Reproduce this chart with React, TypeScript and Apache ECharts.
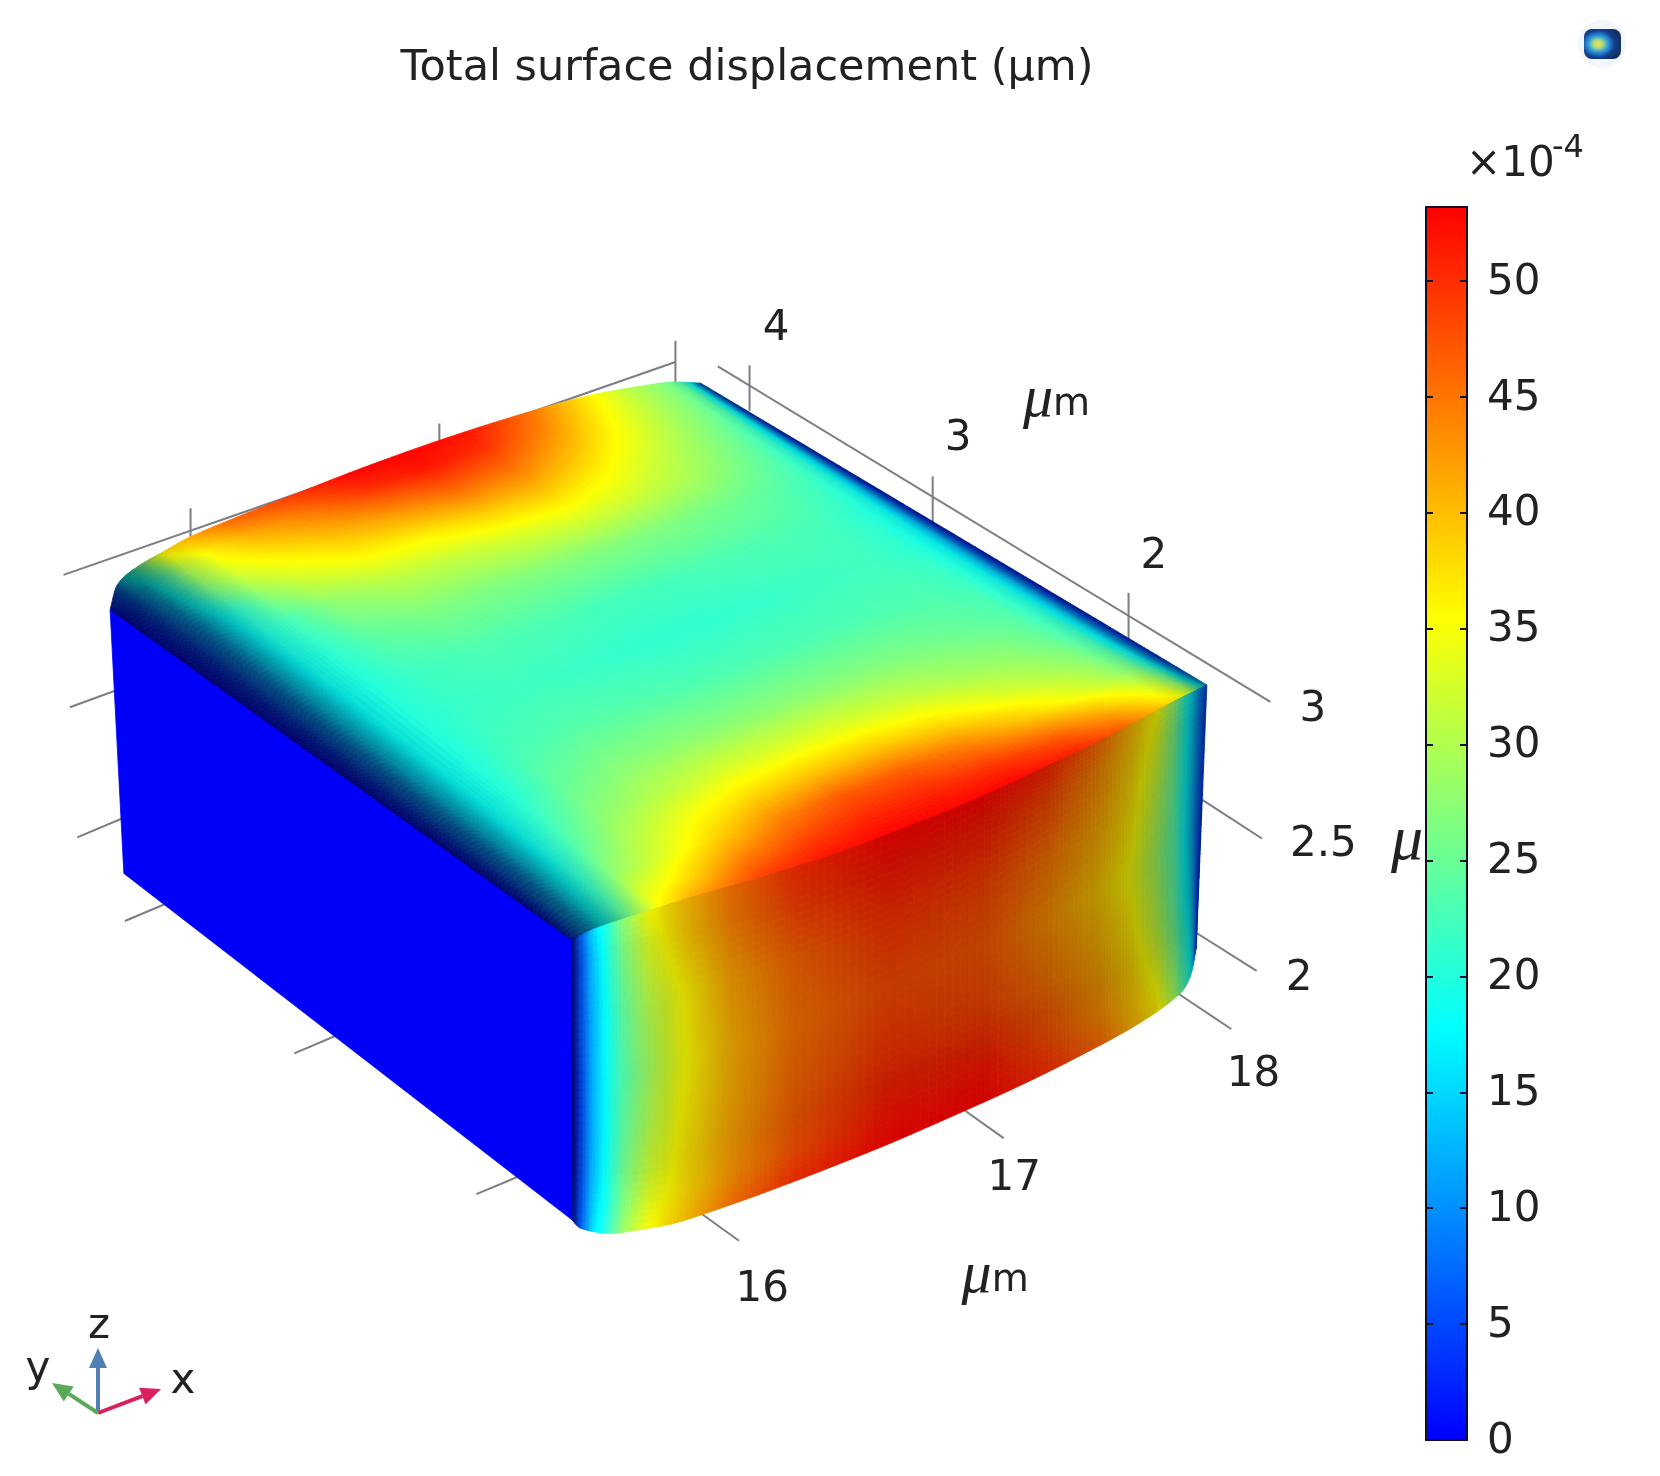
import React, { useEffect, useRef } from "react";
import * as echarts from "echarts";

const TITLE = "Total surface displacement (μm)";
const VALUE_MAX = 53.2;
const COLORBAR_TICK = 5;
const COLOR_STOPS = [
  [0, 0, 255],
  [0, 255, 255],
  [255, 255, 0],
  [255, 0, 0],
];

// Surface samples, values in units of 1e-4 µm.
const TOP_S = [0, 0.02, 0.05, 0.09, 0.14, 0.2, 0.3, 0.4, 0.5, 0.6, 0.7, 0.8, 0.87, 0.92, 0.96, 0.98, 1];
const TOP_T = [0, 0.04, 0.1, 0.16, 0.22, 0.3, 0.4, 0.5, 0.6, 0.7, 0.78, 0.84, 0.9, 0.96, 1];
const TOP_VALUES = [
  [2, 11, 18, 26, 36, 42, 49, 52, 53, 53, 53, 51, 47, 41, 36, 30, 14],
  [1, 10, 17, 23, 33, 37, 45, 49, 51, 51, 50, 47, 42, 37, 32, 25, 8],
  [0, 9, 16, 21, 28, 32, 38.5, 44, 47, 47, 44, 38.5, 34, 30, 26, 19, 4],
  [0, 8, 15, 19.5, 25, 29.5, 34.5, 38, 39.5, 39.5, 37.5, 33, 30, 27.5, 23, 16, 3],
  [0, 8, 15, 19, 23, 27, 30.5, 33, 33.5, 33.5, 32, 29, 27.5, 25, 21.5, 15, 2.5],
  [0, 8, 15, 18.5, 21, 24.5, 27, 27.5, 27.5, 27.5, 27, 26, 24.5, 23.5, 20, 14, 2],
  [0, 8, 15, 18.5, 20.5, 22.5, 23.5, 23.5, 23, 23, 23, 23, 23, 22, 19, 13, 2],
  [0, 8, 15, 18.5, 20.5, 21.5, 22, 21.5, 21, 21, 21.5, 22, 22, 21, 18.5, 13, 2],
  [0, 8, 15, 18.5, 20.5, 22, 23, 23, 22.5, 22.5, 23, 23, 22.5, 21, 19, 13, 2],
  [0, 8, 15, 19, 21.5, 24.5, 26.5, 26.5, 27, 27, 26.5, 25.5, 24, 22.5, 20, 14, 2],
  [0, 8, 15, 20, 23.5, 27.5, 30.5, 31.5, 33, 34, 32.5, 29.5, 26.5, 24, 20.5, 15, 2.5],
  [0, 8.5, 15.5, 21, 28, 32, 35.5, 36.5, 39, 39.5, 36, 31.5, 28, 25, 21.5, 15.5, 3],
  [0, 10, 18, 27, 33, 36, 40, 43, 46, 45, 40, 34, 29.5, 26.5, 23, 16.5, 4],
  [0, 12, 21, 31, 37, 41, 45, 50, 52, 50, 44, 36, 31, 27.5, 24, 18, 6],
  [1, 16, 26, 37, 42, 46, 49, 53, 53, 52, 46, 37.5, 31, 28, 24.5, 19, 8],
];

const FRONT_A = [0, 0.012, 0.03, 0.05, 0.08, 0.12, 0.17, 0.25, 0.35, 0.5, 0.65, 0.75, 0.83, 0.88, 0.92, 0.95, 0.98, 1];
const FRONT_B = [0, 0.1, 0.3, 0.5, 0.7, 0.9, 1];
const FRONT_VALUES = [
  [2, 6, 13, 19, 27, 35, 39, 45, 50, 53, 53, 51, 46, 41, 36, 28, 15, 5],
  [1, 5, 12, 18, 26, 33, 38, 44, 49, 52, 51.5, 48.5, 43.5, 39, 34, 26, 14, 4],
  [1, 5, 11, 17, 24, 30, 35, 41.5, 46, 49.5, 48.5, 45, 41, 37, 31, 24, 13, 4],
  [0, 4, 11, 17, 23, 28.5, 34.5, 40.5, 45, 48, 47, 43, 39, 35, 29, 23, 12, 3],
  [0, 4, 11, 17, 24, 30, 35.5, 41, 46, 49.5, 48.5, 45, 41, 37, 31, 24, 13, 3],
  [1, 5, 12, 18, 26, 33, 37, 42.5, 47.5, 52, 52, 48, 43.5, 39.5, 35, 27, 15, 4],
  [2, 6, 13, 20, 28, 35, 39, 45, 50, 53, 53, 50, 46, 41, 37, 29, 16, 5],
];

const LEFT_A = [0, 1];
const LEFT_B = [0, 1];
const LEFT_VALUES = [
  [0, 0],
  [0, 0],
];

// Tick labels
const COLORBAR_MAX_LABEL = 50;
const X_TICK_LABELS = ["16", "17", "18"];
const Y_TICK_LABELS = ["4", "3", "2"];
const Z_TICK_LABELS = ["3", "2.5", "2"];

// Box geometry, in reference-picture pixels (shrunken view) scaled by K below.
const K = 1660 / 1568;
const TOP_EDGE_FRONT = [[0, 540, 888], [0.033, 560, 878], [0.138, 623, 857], [0.192, 655, 847], [0.308, 725, 827], [0.422, 793, 805], [0.528, 857, 781], [0.632, 919, 756], [0.737, 982, 727], [0.843, 1046, 696], [0.947, 1108, 663], [1, 1140, 647]];
const TOP_EDGE_BACK = [[0, 104, 576], [0.012, 110, 554], [0.04, 126, 538], [0.095, 158, 519], [0.133, 180, 507], [0.206, 220, 490], [0.32, 283, 465], [0.43, 345, 441], [0.556, 415, 416], [0.69, 490, 392], [0.81, 555, 374], [0.907, 610, 364], [0.95, 635, 361], [1, 662, 362]];
const FRONT_EDGE_BOTTOM = [[0, 540, 1152], [0.013, 548, 1160], [0.06, 576, 1165], [0.112, 607, 1161], [0.158, 635, 1156], [0.207, 664, 1147], [0.297, 718, 1128], [0.4, 781, 1104], [0.505, 843, 1079], [0.612, 907, 1051], [0.7, 960, 1027], [0.788, 1013, 1001], [0.895, 1077, 966], [0.958, 1115, 938], [0.973, 1124, 923], [1, 1130, 895]];
const LEFT_EDGE_TOP = [[0, 104, 576], [1, 540, 888]];
const LEFT_EDGE_BOTTOM = [[0, 117, 825], [1, 540, 1152]];

const GUIDES = [
  [60, 543, 638, 342], [180, 480, 180, 510], [415, 400, 415, 420], [638, 322, 638, 365],
  [678, 346, 1200, 663], [708, 345, 708, 388], [881, 450, 881, 497], [1066, 560, 1066, 607],
  [1135, 755, 1192, 792], [1125, 878, 1187, 917], [1112, 938, 1163, 972], [910, 1048, 948, 1075], [662, 1146, 698, 1172],
  [66, 668, 110, 652], [73, 791, 118, 772], [118, 870, 170, 848], [278, 995, 325, 975], [450, 1128, 500, 1107],
];

const TEXT_COLOR = "#222222";
const FONT = "DejaVu Sans";

// Smooth curve through the knots of a box edge (cubic Hermite).
function edgeAt(knots: number[][], u: number) {
  const n = knots.length;
  let k = 1;
  while (k < n - 1 && u > knots[k][0]) k++;
  const a = knots[k - 1];
  const b = knots[k];
  const h = b[0] - a[0];
  const f = (u - a[0]) / h;
  const slope = (idx: number, c: number) => {
    const l = knots[Math.max(0, idx - 1)];
    const r = knots[Math.min(n - 1, idx + 1)];
    return (r[c] - l[c]) / (r[0] - l[0]);
  };
  const f2 = f * f, f3 = f2 * f;
  return [1, 2].map(
    (c) =>
      (2 * f3 - 3 * f2 + 1) * a[c] +
      (f3 - 2 * f2 + f) * h * slope(k - 1, c) +
      (-2 * f3 + 3 * f2) * b[c] +
      (f3 - f2) * h * slope(k, c)
  );
}

function ruled(e0: number[][], e1: number[][], u: number, v: number) {
  const a = edgeAt(e0, u);
  const b = edgeAt(e1, u);
  return [(a[0] + (b[0] - a[0]) * v) * K, (a[1] + (b[1] - a[1]) * v) * K];
}

function table(xs: number[], ys: number[], x: number) {
  for (let k = 1; k < xs.length; k++) {
    if (x <= xs[k]) return ys[k - 1] + ((ys[k] - ys[k - 1]) * (x - xs[k - 1])) / (xs[k] - xs[k - 1]);
  }
  return ys[ys.length - 1];
}

const TOP_SHADE_S = [0, 0.01, 0.03, 0.05, 0.09, 0.13, 0.94, 0.975, 0.99, 1];
const TOP_SHADE_V = [0.42, 0.45, 0.5, 0.62, 0.88, 1, 1, 0.85, 0.68, 0.55];
const FRONT_SHADE_A = [0, 0.006, 0.012, 0.03, 0.08, 0.15, 0.5, 0.85, 0.95, 1];
const FRONT_SHADE_V = [0.45, 0.55, 0.8, 1, 0.95, 0.85, 0.77, 0.72, 0.72, 0.6];
const FRONT_SHADE_B = [0, 0.1, 0.8, 1];
const FRONT_SHADE_W = [1.05, 1, 1, 1.1];

const FACES = [
  {
    u: LEFT_A, v: LEFT_B, values: LEFT_VALUES,
    at: (u: number, v: number) => ruled(LEFT_EDGE_TOP, LEFT_EDGE_BOTTOM, u, v),
    shade: () => 0.98,
  },
  {
    u: TOP_S, v: TOP_T, values: TOP_VALUES,
    at: (u: number, v: number) => ruled(TOP_EDGE_FRONT, TOP_EDGE_BACK, u, v),
    shade: (u: number) => table(TOP_SHADE_S, TOP_SHADE_V, u),
  },
  {
    u: FRONT_A, v: FRONT_B, values: FRONT_VALUES,
    at: (u: number, v: number) => ruled(TOP_EDGE_FRONT, FRONT_EDGE_BOTTOM, u, v),
    shade: (u: number, v: number) => table(FRONT_SHADE_A, FRONT_SHADE_V, u) * table(FRONT_SHADE_B, FRONT_SHADE_W, v),
  },
];

function colorOf(value: number, shade: number) {
  const p = Math.max(0, Math.min(1, value / VALUE_MAX)) * (COLOR_STOPS.length - 1);
  const i = Math.min(COLOR_STOPS.length - 2, Math.floor(p));
  const f = p - i;
  const c = COLOR_STOPS[i].map((x, n) => Math.min(255, Math.round((x + (COLOR_STOPS[i + 1][n] - x) * f) * shade)));
  return `rgb(${c[0]},${c[1]},${c[2]})`;
}

const CELLS: number[][] = [];
FACES.forEach((f, fi) => {
  for (let j = 0; j < f.v.length - 1; j++) {
    for (let i = 0; i < f.u.length - 1; i++) {
      CELLS.push([fi, i, j, f.values[j][i], f.values[j][i + 1], f.values[j + 1][i], f.values[j + 1][i + 1]]);
    }
  }
});

function steps(len: number, dv: number) {
  return Math.max(1, Math.min(Math.ceil(len / 1.5), Math.max(Math.ceil(len / 9), Math.ceil(dv * 2.5))));
}

function renderCell(_: any, api: any) {
  const face = FACES[api.value(0)];
  const i = api.value(1);
  const j = api.value(2);
  const v00 = api.value(3);
  const v10 = api.value(4);
  const v01 = api.value(5);
  const v11 = api.value(6);
  const u0 = face.u[i], u1 = face.u[i + 1], w0 = face.v[j], w1 = face.v[j + 1];
  const a = face.at(u0, w0), b = face.at(u1, w0), c = face.at(u0, w1);
  const uniform = face.values === LEFT_VALUES;
  const nu = uniform ? 1 : steps(Math.hypot(b[0] - a[0], b[1] - a[1]), Math.max(Math.abs(v10 - v00), Math.abs(v11 - v01)));
  const nv = uniform ? 1 : steps(Math.hypot(c[0] - a[0], c[1] - a[1]), Math.max(Math.abs(v01 - v00), Math.abs(v11 - v10)));
  const children: any[] = [];
  for (let q = 0; q < nv; q++) {
    for (let p = 0; p < nu; p++) {
      const fu0 = p / nu, fu1 = (p + 1) / nu, fv0 = q / nv, fv1 = (q + 1) / nv;
      const U0 = u0 + (u1 - u0) * fu0, U1 = u0 + (u1 - u0) * fu1;
      const W0 = w0 + (w1 - w0) * fv0, W1 = w0 + (w1 - w0) * fv1;
      const pts = [face.at(U0, W0), face.at(U1, W0), face.at(U1, W1), face.at(U0, W1)].map((pt) => api.coord(pt));
      const fu = (fu0 + fu1) / 2, fv = (fv0 + fv1) / 2;
      const val = (v00 * (1 - fu) + v10 * fu) * (1 - fv) + (v01 * (1 - fu) + v11 * fu) * fv;
      const col = colorOf(val, face.shade((U0 + U1) / 2, (W0 + W1) / 2));
      children.push({
        type: "polygon",
        shape: { points: pts },
        silent: true,
        style: { fill: col, stroke: col, lineWidth: 0.8 },
      });
    }
  }
  return { type: "group", children };
}

function renderGuide(_: any, api: any) {
  const s = api.coord([api.value(0) * K, api.value(1) * K]);
  const e = api.coord([api.value(2) * K, api.value(3) * K]);
  return {
    type: "line",
    silent: true,
    shape: { x1: s[0], y1: s[1], x2: e[0], y2: e[1] },
    style: { stroke: "#7c7d86", lineWidth: 2 },
  };
}

function label(text: string, x: number, y: number, fontSize = 42) {
  return {
    type: "text",
    x: x * K,
    y: y * K,
    silent: true,
    style: { text, fontSize, fontFamily: FONT, fill: TEXT_COLOR, align: "center", verticalAlign: "middle" },
  };
}

function unit(x: number, y: number) {
  return {
    type: "text",
    x: x * K,
    y: y * K,
    silent: true,
    style: {
      text: "{a|μ}{b|m}",
      align: "center",
      verticalAlign: "middle",
      rich: {
        a: { fontSize: 60, fontStyle: "italic", fontFamily: "Liberation Serif", fill: TEXT_COLOR, padding: [0, 0, 12, 0] },
        b: { fontSize: 38, fontFamily: FONT, fill: TEXT_COLOR },
      },
    },
  };
}

function arrow(x0: number, y0: number, x1: number, y1: number, color: string) {
  const dx = x1 - x0, dy = y1 - y0, l = Math.hypot(dx, dy);
  const ux = dx / l, uy = dy / l;
  const hx = x1 - ux * 20, hy = y1 - uy * 20;
  return [
    { type: "line", silent: true, shape: { x1: x0, y1: y0, x2: hx, y2: hy }, style: { stroke: color, lineWidth: 4 } },
    {
      type: "polygon",
      silent: true,
      shape: { points: [[x1, y1], [hx - uy * 9, hy + ux * 9], [hx + uy * 9, hy - ux * 9]] },
      style: { fill: color },
    },
  ];
}

const colorStops = COLOR_STOPS.map((c, i) => ({
  offset: i / (COLOR_STOPS.length - 1),
  color: `rgb(${c[0]},${c[1]},${c[2]})`,
}));

export default function App() {
  const ref = useRef<HTMLDivElement>(null);
  useEffect(() => {
    const chart = echarts.init(ref.current!, undefined, { renderer: "svg" });
    const barAxisLine = { show: true, onZero: false, lineStyle: { color: "#101020", width: 2 } };
    chart.setOption({
      animation: false,
      backgroundColor: "#ffffff",
      title: {
        text: TITLE,
        left: 742,
        top: 38,
        textAlign: "center",
        textStyle: { fontSize: 43, fontWeight: "normal", fontFamily: FONT, color: TEXT_COLOR },
      },
      grid: [
        { left: 0, top: 0, width: 1660, height: 1476 },
        { left: 1426, top: 207, width: 41, height: 1233 },
        { left: 1426, top: 205, width: 41, height: 1233 },
      ],
      xAxis: [
        { type: "value", gridIndex: 0, min: 0, max: 1660, show: false },
        { type: "category", gridIndex: 1, data: [""], position: "bottom", axisLine: barAxisLine, axisTick: { show: false }, axisLabel: { show: false }, z: 6 },
        { type: "category", gridIndex: 1, data: [""], position: "top", axisLine: barAxisLine, axisTick: { show: false }, axisLabel: { show: false }, z: 6 },
        { type: "category", gridIndex: 2, data: [""], show: false },
      ],
      yAxis: [
        { type: "value", gridIndex: 0, min: 0, max: 1476, inverse: true, show: false },
        {
          type: "value", gridIndex: 1, position: "right", min: 0, max: VALUE_MAX, interval: COLORBAR_TICK,
          axisLine: barAxisLine,
          axisTick: { show: true, inside: true, length: 7, lineStyle: { color: "#101030", width: 2 } },
          splitLine: { show: false },
          axisLabel: { show: false },
          z: 6,
        },
        {
          type: "value", gridIndex: 1, position: "left", min: 0, max: VALUE_MAX, interval: COLORBAR_TICK,
          axisLine: barAxisLine,
          axisTick: { show: true, inside: true, length: 7, lineStyle: { color: "#101030", width: 2 } },
          splitLine: { show: false },
          axisLabel: { show: false },
          z: 6,
        },
        {
          type: "value", gridIndex: 2, position: "right", min: 0, max: VALUE_MAX, interval: COLORBAR_TICK,
          axisLine: { show: false },
          axisTick: { show: false },
          splitLine: { show: false },
          axisLabel: {
            show: true, margin: 20, fontSize: 42, fontFamily: FONT, color: TEXT_COLOR, showMaxLabel: false,
            formatter: (v: number) => (v > COLORBAR_MAX_LABEL ? "" : String(v)),
          },
        },
      ],
      series: [
        {
          type: "custom",
          coordinateSystem: "cartesian2d",
          xAxisIndex: 0, yAxisIndex: 0,
          z: 1,
          silent: true,
          renderItem: renderGuide,
          data: GUIDES,
        },
        {
          type: "custom",
          coordinateSystem: "cartesian2d",
          xAxisIndex: 0, yAxisIndex: 0,
          z: 2,
          silent: true,
          progressive: 0,
          renderItem: renderCell,
          data: CELLS,
        },
        {
          type: "bar",
          xAxisIndex: 1, yAxisIndex: 1,
          barWidth: "100%",
          silent: true,
          data: [VALUE_MAX],
          itemStyle: { color: new echarts.graphic.LinearGradient(0, 1, 0, 0, colorStops) },
        },
      ],
      graphic: [
        label(Y_TICK_LABELS[0], 733, 307),
        label(Y_TICK_LABELS[1], 905, 411),
        label(Y_TICK_LABELS[2], 1090, 523),
        label(Z_TICK_LABELS[0], 1240, 667),
        label(Z_TICK_LABELS[1], 1250, 795),
        label(Z_TICK_LABELS[2], 1227, 921),
        label(X_TICK_LABELS[2], 1184, 1012),
        label(X_TICK_LABELS[1], 958, 1110),
        label(X_TICK_LABELS[0], 720, 1215),
        unit(998, 380),
        unit(940, 1207),
        {
          type: "text", x: 1329 * K, y: 791 * K, silent: true,
          style: { text: "μ", align: "center", verticalAlign: "middle", fontSize: 64, fontStyle: "italic", fontFamily: "Liberation Serif", fill: TEXT_COLOR },
        },
        { type: "text", x: 1466, y: 161, silent: true, style: { text: "×10", fontSize: 42, fontFamily: FONT, fill: TEXT_COLOR, align: "left", verticalAlign: "middle" } },
        { type: "text", x: 1552, y: 146, silent: true, style: { text: "-4", fontSize: 32, fontFamily: FONT, fill: TEXT_COLOR, align: "left", verticalAlign: "middle" } },
        { type: "text", x: 99, y: 1323, silent: true, style: { text: "z", fontSize: 42, fontFamily: FONT, fill: TEXT_COLOR, align: "center", verticalAlign: "middle" } },
        { type: "text", x: 183, y: 1378, silent: true, style: { text: "x", fontSize: 42, fontFamily: FONT, fill: TEXT_COLOR, align: "center", verticalAlign: "middle" } },
        { type: "text", x: 38, y: 1366, silent: true, style: { text: "y", fontSize: 42, fontFamily: FONT, fill: TEXT_COLOR, align: "center", verticalAlign: "middle" } },
        ...arrow(98, 1413, 98, 1348, "#4f7fb5"),
        ...arrow(98, 1413, 161, 1389, "#d8205f"),
        ...arrow(98, 1413, 52, 1383, "#5aa85a"),
        { type: "circle", silent: true, shape: { cx: 1602, cy: 44, r: 24 }, style: { fill: "#f3f6fb" } },
        {
          type: "rect", silent: true,
          shape: { x: 1584, y: 29, width: 37, height: 30, r: 8 },
          style: {
            fill: new echarts.graphic.RadialGradient(0.38, 0.5, 0.62, [
              { offset: 0, color: "#f0e860" },
              { offset: 0.22, color: "#a8d878" },
              { offset: 0.42, color: "#2fa0df" },
              { offset: 0.72, color: "#123f90" },
              { offset: 1, color: "#14305f" },
            ]),
          },
        },
      ],
    });
    return () => chart.dispose();
  }, []);
  return <div ref={ref} style={{ position: "absolute", left: 0, top: 0, width: 1660, height: 1476, filter: "blur(0.7px)" }} />;
}
